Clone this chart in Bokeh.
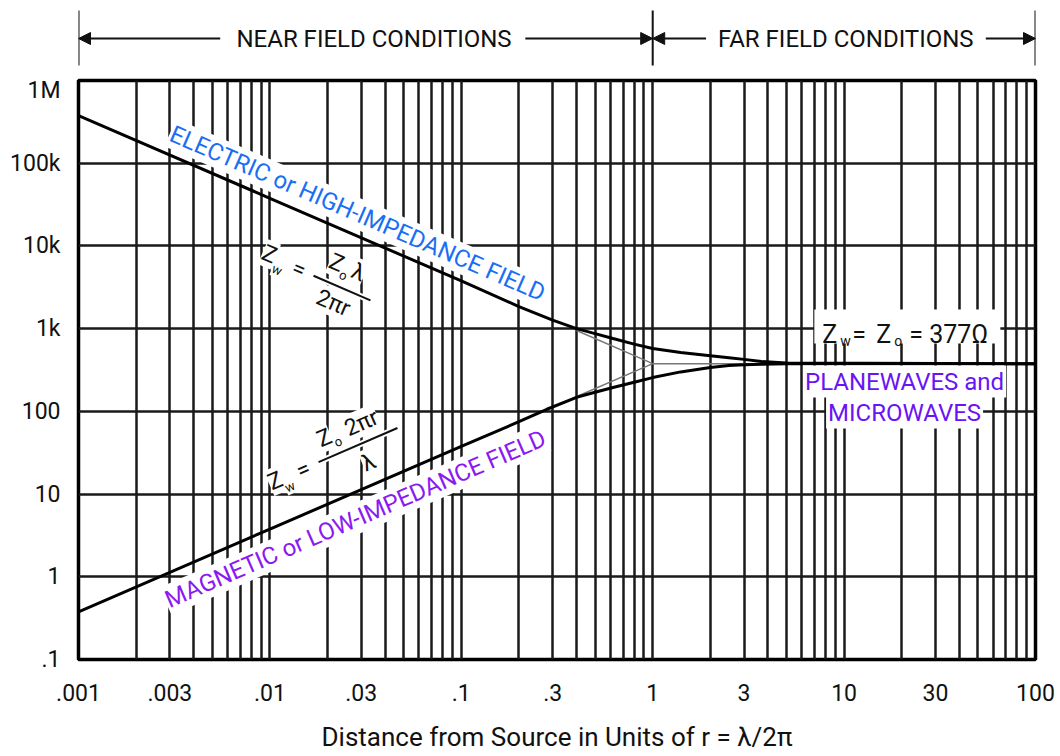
import math
from bokeh.plotting import figure
from bokeh.layouts import column
from bokeh.models import (Range1d, FixedTicker, CustomJSTickFormatter, Arrow,
                          NormalHead, ColumnDataSource)
from bokeh.core.properties import value, field
from bokeh.embed import file_html
from bokeh.resources import INLINE

# ---------------- data ----------------
x_tick_values = [0.001, 0.003, 0.01, 0.03, 0.1, 0.3, 1, 3, 10, 30, 100]
x_tick_labels = [".001", ".003", ".01", ".03", ".1", ".3", "1", "3", "10", "30", "100"]
y_tick_values = [0.1, 1, 10, 100, 1e3, 1e4, 1e5, 1e6]
y_tick_labels = [".1", "1", "10", "100", "1k", "10k", "100k", "1M"]
x_grid_values = [k * 10.0 ** n for n in range(-3, 2) for k in range(1, 10)] + [100]

# electric (high impedance) field wave impedance, ohms
electric_r = [0.001, 0.01, 0.1, 0.2, 0.3, 0.4, 0.5, 0.62, 0.8, 1.0, 1.4, 2.0, 2.5, 3.0, 3.7, 5.0, 100]
electric_z = [377000, 37700, 3770, 1850, 1270, 1000, 870, 760, 650, 575, 515, 470, 445, 425, 400, 383, 377]
# magnetic (low impedance) field wave impedance, ohms
magnetic_r = [0.001, 0.01, 0.1, 0.2, 0.28, 0.4, 0.5, 0.62, 0.8, 1.0, 1.4, 2.0, 2.5, 3.0, 3.7, 5.0, 100]
magnetic_z = [0.377, 3.77, 37.7, 75, 106, 148, 170, 194, 225, 256, 300, 339, 358, 366, 372, 376, 377]
# thin asymptote lines
electric_asym_r = [0.4, 1.0]
electric_asym_z = [950, 377]
magnetic_asym_r = [0.38, 1.0]
magnetic_asym_z = [143, 377]
plane_asym_r = [1.0, 3.7]
plane_asym_z = [377, 377]

region_bounds = [0.001, 1, 100]
region_names = ["NEAR FIELD CONDITIONS", "FAR FIELD CONDITIONS"]

FONT = "Roboto"
ELEC_COLOR = "#1A6EF5"
MAG_COLOR = "#8A1AF0"
PLANE_COLOR = "#6A14F5"
INK = "#111111"

FRAME_W, FRAME_H = 957, 579
LEFT, RIGHT = 78, 25
HEAD_H = 76

# ---------------- header (region arrows) ----------------
h = figure(x_axis_type="log", x_range=Range1d(0.001, 100), y_range=Range1d(HEAD_H, 0),
           frame_width=FRAME_W, frame_height=HEAD_H,
           min_border_left=LEFT, min_border_right=RIGHT, min_border_top=0, min_border_bottom=0,
           x_axis_location=None, y_axis_location=None,
           output_backend="svg", toolbar_location=None)
h.outline_line_color = None
h.grid.visible = False
h.segment(x0=region_bounds, y0=[10] * 3, x1=region_bounds, y1=[65] * 3,
          line_width=2, color=INK)
arrow_specs = [(0.0055, 0.001), (0.216, 1.0), (1.9, 1.0), (55, 100)]
for xs, xe in arrow_specs:
    h.add_layout(Arrow(end=NormalHead(size=12, fill_color=INK, line_color=INK, line_width=1),
                       x_start=xs, y_start=38, x_end=xe, y_end=38,
                       line_width=2, line_color=INK))
h.text(x=[0.035, 10.2], y=[38, 38], text=region_names, text_align="center",
       text_baseline="middle", text_font=value(FONT), text_font_size="24px",
       text_color=INK)

# ---------------- main chart ----------------
p = figure(x_axis_type="log", y_axis_type="log",
           x_range=h.x_range, y_range=Range1d(0.1, 1e6),
           frame_width=FRAME_W, frame_height=FRAME_H,
           min_border_left=LEFT, min_border_right=RIGHT, min_border_top=4, min_border_bottom=0,
           output_backend="svg", toolbar_location=None)
p.outline_line_color = "black"
p.outline_line_width = 3.5
p.background_fill_color = "white"

p.xgrid.ticker = FixedTicker(ticks=x_grid_values)
p.ygrid.ticker = FixedTicker(ticks=y_tick_values)
p.grid.grid_line_color = "#1a1a1a"
p.grid.grid_line_width = 2.5
p.grid.grid_line_alpha = 1.0

fmt_code = """
for (let i = 0; i < vals.length; i++) {
  if (Math.abs(Math.log10(tick) - Math.log10(vals[i])) < 1e-6) return labs[i];
}
return "";
"""
p.xaxis.ticker = FixedTicker(ticks=x_tick_values)
p.xaxis.formatter = CustomJSTickFormatter(args=dict(vals=x_tick_values, labs=x_tick_labels), code=fmt_code)
p.yaxis.ticker = FixedTicker(ticks=y_tick_values)
p.yaxis.formatter = CustomJSTickFormatter(args=dict(vals=y_tick_values, labs=y_tick_labels), code=fmt_code)
for ax in (p.xaxis, p.yaxis):
    ax.axis_line_color = None
    ax.major_tick_line_color = None
    ax.minor_tick_line_color = None
    ax.major_label_text_font = FONT
    ax.major_label_text_font_size = "23px"
    ax.major_label_text_color = INK
p.xaxis.major_label_standoff = 18
p.yaxis.major_label_standoff = 12
p.xaxis.axis_label = "Distance from Source in Units of r = \u03bb/2\u03c0"
p.xaxis.axis_label_text_font = FONT
p.xaxis.axis_label_text_font_size = "26px"
p.xaxis.axis_label_text_font_style = "normal"
p.xaxis.axis_label_text_color = INK
p.xaxis.axis_label_standoff = 18

# curves
for rr, zz in ((electric_asym_r, electric_asym_z), (magnetic_asym_r, magnetic_asym_z),
               (plane_asym_r, plane_asym_z)):
    p.line(rr, zz, line_width=1.4, color="#777777")
p.line(electric_r, electric_z, line_width=3, color="black")
p.line(magnetic_r, magnetic_z, line_width=3, color="black")

LINE_ANGLE = 23.4  # degrees, slope of the 1/r and r lines on screen

# field labels
p.text(x=[0.0287], y=[24660], text=["ELECTRIC or HIGH-IMPEDANCE FIELD"],
       angle=-LINE_ANGLE, angle_units="deg", text_align="center", text_baseline="middle",
       text_font=value(FONT), text_font_size="24px", text_color=ELEC_COLOR,
       background_fill_color="white", padding=1)
p.text(x=[0.0280], y=[4.99], text=["MAGNETIC or LOW-IMPEDANCE FIELD"],
       angle=LINE_ANGLE, angle_units="deg", text_align="center", text_baseline="middle",
       text_font=value(FONT), text_font_size="24px", text_color=MAG_COLOR,
       background_fill_color="white", padding=1)


def rot(u, v, theta):
    t = math.radians(theta)
    return u * math.cos(t) + v * math.sin(t), -u * math.sin(t) + v * math.cos(t)


def formula(anchor, theta, pieces, bar_len):
    ax_, ay_ = anchor
    xs, ys, txt, xo, yo, fs = [], [], [], [], [], []
    for t, u, v, s in pieces:
        dx, dy = rot(u, v, theta)
        xs.append(ax_); ys.append(ay_); txt.append(t)
        xo.append(dx); yo.append(dy); fs.append(f"{s}px")
    src = ColumnDataSource(dict(x=xs, y=ys, text=txt, xo=xo, yo=yo, fs=fs))
    p.rect(x=[ax_], y=[ay_], width=bar_len + 8, height=6, width_units="screen",
           height_units="screen", angle=theta, angle_units="deg",
           fill_color="white", line_color=None)
    p.text(x="x", y="y", text="text", x_offset="xo", y_offset="yo", source=src,
           angle=theta, angle_units="deg", text_align="center", text_baseline="middle",
           text_font=value(FONT), text_font_size=field("fs"), text_color=INK,
           background_fill_color="white", padding=0)
    p.rect(x=[ax_], y=[ay_], width=bar_len, height=2, width_units="screen",
           height_units="screen", angle=theta, angle_units="deg",
           fill_color=INK, line_color=None)


formula((0.0238, 3097), -LINE_ANGLE,
        [("Z", -80, -2, 23), ("w", -67, 9, 13), ("=", -47, 0, 23),
         ("Z", -15, -21, 23), ("o", -4, -12, 13), ("\u03bb", 9, -21, 23),
         ("2\u03c0r", -2, 17, 23)], 62)
formula((0.02886, 39.1), LINE_ANGLE,
        [("Z", -90, 0, 23), ("w", -79, 11, 13), ("=", -60, 1, 23),
         ("Z", -28, -20, 23), ("o", -17, -11, 13), ("2\u03c0r", 12, -19, 23),
         ("\u03bb", 3, 20, 23)], 86)

# plane wave impedance label
pw_anchor = (21.4, 1060)
p.rect(x=[pw_anchor[0]], y=[pw_anchor[1]], width=186, height=34, width_units="screen",
       height_units="screen", fill_color="white", line_color=None)
pw_pieces = [("Z", -85, 8, 25), ("w", -67, 14, 14), ("=", -55, 8, 25),
             ("Z", -31, 8, 25), ("o", -13, 14, 14), ("= 377\u03a9", 2, 8, 25)]
p.text(x=[pw_anchor[0]] * len(pw_pieces), y=[pw_anchor[1]] * len(pw_pieces),
       text=[t for t, _, _, _ in pw_pieces],
       x_offset=[a for _, a, _, _ in pw_pieces], y_offset=[b for _, _, b, _ in pw_pieces],
       text_font_size=[f"{s}px" for _, _, _, s in pw_pieces],
       text_align="left", text_baseline="alphabetic", text_font=value(FONT), text_color=INK)

p.text(x=[20.7, 20.7], y=[229, 96.8], text=["PLANEWAVES and", "MICROWAVES"],
       text_align="center", text_baseline="middle", text_font=value(FONT),
       text_font_size="24px", text_color=PLANE_COLOR,
       background_fill_color="white", padding=2)

layout = column(h, p, spacing=0)
open("out.html", "w").write(file_html(layout, INLINE))
